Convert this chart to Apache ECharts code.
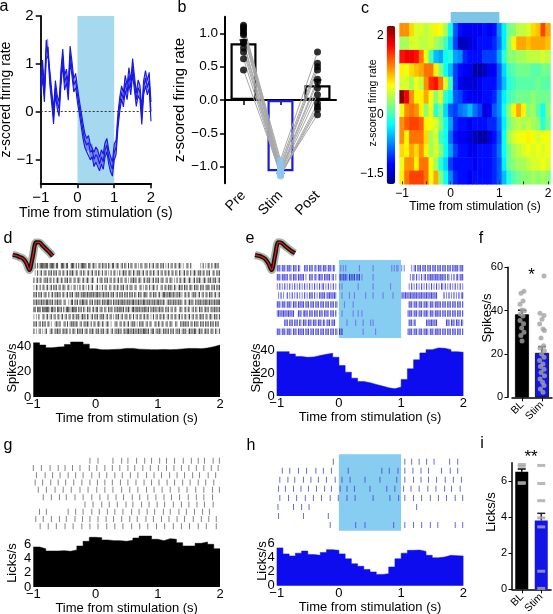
<!DOCTYPE html>
<html><head><meta charset="utf-8"><title>chart</title>
<script src="https://cdn.jsdelivr.net/npm/echarts@6.0.0/dist/echarts.min.js"></script>
<style>html,body{margin:0;padding:0;background:#fff;}#chart{width:553px;height:614px;}</style>
</head><body><div id="chart"></div>
<script>
// ================= DATA =================
const xTitle = 'Time from stimulation (s)';
const stimPeriod = [0, 1];
const timeTicks = [-1, 0, 1, 2];
// panel a: mean z-score trace (0.05 s steps from -1 to 2) and SEM
const meanA = [0.5,0.9,0.35,1.3,1.35,0.7,0.3,-0.1,0.5,0.2,
  0.05,0.7,1.15,0.6,0.75,0.4,1.2,0.9,0.55,0.65,
  0.35,0.1,-0.15,-0.4,-0.6,-0.7,-0.65,-0.85,-0.8,-1.0,
  -0.9,-0.95,-1.1,-0.95,-1.05,-0.8,-0.7,-0.95,-1.1,-1.2,
  -0.85,-0.75,-0.2,0.15,0.4,0.25,0.6,0.4,0.75,0.5,
  0.95,0.6,0.25,0.5,0.4,-0.1,0.5,0.7,0.5,0.65,0.0];
const semA = [0.16,0.18,0.15,0.2,0.18,0.15,0.14,0.16,0.15,0.14,
  0.15,0.17,0.16,0.15,0.14,0.16,0.17,0.15,0.14,0.15,
  0.16,0.14,0.15,0.16,0.15,0.14,0.15,0.16,0.14,0.15,
  0.16,0.15,0.14,0.15,0.16,0.15,0.14,0.15,0.16,0.15,
  0.17,0.15,0.16,0.15,0.14,0.15,0.16,0.15,0.17,0.15,
  0.16,0.15,0.14,0.16,0.15,0.17,0.15,0.16,0.15,0.17,0.2];
const yTicksA = [-1, 0, 1, 2];
// panel b
const catB = ['Pre', 'Stim', 'Post'];
const barsB = [0.85, -1.07, 0.22];
const errB = [0.9, -1.1, 0.3];
const preB = [1.12, 1.1, 1.07, 1.04, 1.0, 0.98, 0.87, 0.85, 0.78, 0.72, 0.62, 0.45];
const stimB = [-0.9, -0.95, -1.0, -1.02, -1.05, -1.07, -1.08, -1.1, -1.12, -1.13, -1.14, -1.1];
const postB = [0.72, 0.55, 0.5, 0.45, 0.31, 0.27, 0.18, 0.08, -0.05, -0.1, -0.14, -0.22];
const yTicksB = [-1, -0.5, 0, 0.5, 1];
// panel c: heatmap, 12 neurons x 31 time bins (-1..2 by 0.1)
const heatRows = [
  [1.2,1.2,0.9,0.6,0.6,0.5,0.6,0.8,0.7,0.4,-0.2,-0.9,-1.2,-1.3,-1.3,-1.3,-1.3,-1.2,-1.3,-1.2,-0.7,-0.3,0.2,0.3,0.5,0.5,0.6,0.9,1.0,1.5,1.1],
  [0.4,0.4,0.6,0.6,0.5,0.5,0.6,0.4,0.3,0.0,-0.4,-1.0,-1.5,-1.5,-1.4,-1.3,-1.2,-1.2,-1.2,-1.1,-0.8,-0.3,0.3,0.8,1.1,1.1,1.0,1.1,1.1,1.1,1.0],
  [1.7,1.8,1.8,1.7,1.3,0.7,0.0,-0.5,-0.6,-0.2,-0.1,-0.6,-0.7,-1.1,-1.2,-1.2,-1.2,-1.0,-1.0,-1.0,-0.6,-0.1,0.3,0.3,0.4,0.4,0.5,0.5,0.5,0.6,0.5],
  [0.8,0.7,0.9,1.0,1.1,1.3,1.3,0.8,0.3,-0.2,-0.5,-1.0,-1.2,-1.3,-1.3,-1.6,-1.6,-1.5,-1.3,-1.3,-0.9,-0.4,0.0,0.1,0.2,0.2,0.2,0.1,0.1,0.2,0.2],
  [0.6,0.6,0.4,0.7,0.5,1.2,1.6,1.7,1.3,0.6,0.0,-1.0,-1.3,-1.4,-1.4,-1.4,-1.3,-1.2,-1.2,-1.2,-0.9,-0.5,-0.1,0.0,0.1,0.1,0.1,0.1,0.2,0.1,0.1],
  [2.2,1.8,1.2,0.8,0.8,1.1,0.7,0.3,0.6,-0.1,-0.3,-0.9,-1.0,-1.2,-1.3,-1.3,-1.3,-1.2,-1.2,-1.1,-0.7,-0.3,0.0,0.1,0.2,0.2,0.2,0.3,0.2,0.2,0.2],
  [0.7,1.2,1.3,1.2,0.8,0.3,0.7,-0.1,0.2,-0.4,-0.9,-1.0,-0.8,-0.7,-0.5,-0.8,-1.0,-1.4,-1.3,-0.9,-0.7,-0.2,0.3,0.8,1.1,0.8,0.3,0.4,0.1,-0.2,0.3],
  [1.2,1.4,1.5,1.5,1.4,0.8,0.7,0.6,0.3,-0.2,-0.6,-1.1,-1.2,-1.2,-1.3,-1.2,-1.2,-1.2,-1.1,-1.1,-0.8,-0.3,0.2,0.4,0.5,0.4,0.5,0.4,0.3,-0.1,0.2],
  [1.2,0.8,1.3,1.3,1.3,0.9,0.4,0.6,0.0,-0.2,-0.8,-1.2,-1.3,-1.3,-1.4,-1.5,-1.6,-1.6,-1.4,-1.2,-0.9,-0.2,0.4,0.6,0.7,0.7,0.8,0.7,0.6,0.7,0.7],
  [0.9,0.8,1.1,0.9,1.2,0.8,0.4,0.6,0.3,-0.2,-0.6,-1.0,-1.2,-1.2,-1.3,-1.3,-1.2,-1.2,-1.2,-1.1,-0.8,-0.2,0.2,0.4,0.5,0.6,0.7,0.6,0.7,0.6,0.7],
  [0.7,1.2,1.2,0.8,1.3,1.3,0.7,0.4,-0.1,-0.4,-1.0,-1.2,-1.2,-1.2,-1.2,-1.3,-1.2,-1.2,-1.2,-1.1,-0.9,-0.3,0.2,0.3,0.4,0.4,0.5,0.6,0.6,0.7,0.6],
  [0.8,1.3,1.5,1.5,1.5,1.3,0.7,1.1,0.3,-0.2,-0.7,-1.1,-1.2,-1.2,-1.3,-1.2,-1.2,-1.2,-1.2,-1.1,-0.9,-0.5,-0.1,0.1,0.2,0.3,0.3,0.4,0.3,0.4,0.3]
];
const cbRange = [-1.75, 2.26];
const cbTicks = [-1.5, 0, 2];
const heatTicks = [-1, -0.5, 0, 0.5, 1, 1.5, 2];
// waveforms (normalised)
const waveD = [0, -0.04, -0.13, -0.22, -0.49, -1.0, -0.11, 0.84, 0.84, 0.62, 0.4, 0.18, -0.07];
const waveE = [0, -0.05, -0.12, -0.25, -0.55, -1.0, -0.05, 0.85, 0.8, 0.6, 0.42, 0.25, 0.12];
// spike rasters: one char per 20 ms bin from -1 s; 0 none, 1 light, 2 dark
const rasterD = [
  '2202022222 2202222022 0022202200 2220202022 2210220121 1012021120 2102201210 1202102021 0120102101 2102012012 1021201020 1201201210 1002102000 0000102010 2102012120',
  '0102012012 1021202120 1201201202 1210210120 2101201201 2021020120 1020120102 0121201210 2102120120 1201202101 2012012021 0210210210 1202102012 1021202102 1200210212',
  '2012021012 1202102012 1021021202 1012012101 2012101210 0201210212 0120120120 2101201021 2120121012 0212012021 2012101201 2101020120 1210121012 0212101210 2120212012',
  '1021020120 1201202120 1201210120 1012010201 2010201200 1201020120 0210120210 2120120121 0120012010 2102012102 0012012021 2102101212 0212012102 1210212012 2102120212',
  '2120212012 1020120212 1201201202 1201212021 2212122121 2212112121 2021201202 1202120212 0210212012 2101202120 1201221212 2121121211 0120210121 2012012012 0212012012',
  '2121212121 2212120212 1210120010 2202120212 2121021202 1212021212 2120212121 2212121212 2121212122 1212121212 2121210121 2121212121 0120121210 2121212122 1212121222',
  '2202220222 2220221202 2120202221 1222202120 2102120120 2201210210 2121021212 2120212102 2122121212 2120212121 1212102120 1201200121 0120210120 2102120121 2012121212',
  '1010200120 1201201201 2012012012 0120212012 1202101202 1201212012 0120102120 1201210210 2012012012 0210102012 0120210120 1201201202 0120120120 1201212012 0121021202',
  '2120120212 0120100121 1200120201 2121210120 1212102012 0121021012 1010012101 2012012012 1201021210 1201200120 2102101201 2100210021 2121201202 1210212021 2021202120',
  '2010120101 2001210212 1201212102 0121021212 0121021210 2120212012 1012012121 2012122121 2121212122 2120122012 1210212120 2120121201 2120121212 2012120121 2012102102'
];
const rasterE = [
  '2120212021 2102120210 0021202120 1202120212 0212021000 0101010000 0000001000 0000000100 0000000000 0010101100 1010000010 1202120212 0212021202 1202120212 0212120212',
  '2120212120 1202120212 1201002120 1201212021 2120120100 1212121021 2120212010 0000000100 0000000000 0000000000 0000000102 1020102012 0212121212 1212120210 1020120212',
  '1020102010 2010201020 1020102010 2010201201 0201020100 1010000000 0000010000 0000000100 0000000000 0100000000 0000001020 1020102010 2010201020 1021020102 0102010201',
  '0102010020 1020102010 1020102120 2010212120 2121212100 0010000010 0010000000 0100000100 0000010000 0001000000 1212121212 2121212121 2121212120 0000201020 1020102012',
  '2120212021 2102120212 1202120212 0212021202 1202120210 0000100000 0100000000 0000000000 0000000000 0000000000 0000002120 2120212021 2102120212 1202120212 0212021202',
  '1212121212 1212000212 0121202120 2120212021 2102120200 0010000000 0100010010 0000000000 0000000000 0000000000 0000012120 2120212021 2102120212 1202120212 0212021202',
  '0000002120 2120212021 0212021202 1202120210 2120212000 0000001000 0001000001 0000010100 0000000000 0000000000 0000002120 2100000000 2121212120 0000002120 2120212021',
  '2120212021 2102120212 1202120212 0212021202 1202120210 2120000000 0000000001 0000000001 0000000000 0000000000 0000012120 2120212021 2102120212 1202120212 0212021202'
];
// PSTH histograms, 100 ms bins from -1 s
const histD = [42.6,40.8,38.7,39.2,39.5,41.3,43.2,43.2,41.5,38.0,37.1,37.1,37.4,37.6,38.2,38.2,37.6,37.4,37.2,37.2,37.4,37.2,37.4,37.8,38.2,38.2,38.0,38.5,39.5,40.8];
const histE = [39.0,39.0,37.0,34.7,34.0,34.4,35.6,36.7,37.6,34.1,26.8,21.0,15.7,12.8,11.7,10.2,8.7,7.3,6.4,7.9,14.6,23.9,31.8,37.9,40.8,42.3,42.0,40.8,39.0,38.5];
const histG = [5.66,5.42,5.09,5.09,5.14,5.05,5.24,5.8,6.46,7.03,6.98,6.65,6.56,6.56,6.46,6.6,6.93,7.22,7.22,6.75,6.56,6.84,6.75,6.27,5.8,5.8,6.18,6.37,6.04,5.42];
const histH = [5.35,4.5,4.2,4.6,4.9,4.4,4.3,4.7,5.1,5.0,4.5,3.8,3.1,2.75,2.3,1.95,1.6,1.7,2.65,3.8,4.6,5.0,5.05,4.85,4.3,3.95,4.05,4.3,4.25,4.2];
const spikeTicks = [0, 20, 40];
const lickTicks = [0, 2, 4, 6];
// panel f
const catF = ['BL', 'Stim'];
const barsF = [38.3, 20.5];
const errF = [40.2, 23.4];
const dotsFBL = [49, 48, 44.5, 43, 40.3, 40, 38.5, 37.5, 35.5, 34, 32, 30, 28.5, 26];
const jitFBL = [0.1, -0.05, 0.05, -0.1, 0.0, 0.12, -0.08, 0.05, -0.1, 0.08, -0.02, 0.1, -0.06, 0.0];
const dotsFStim = [56, 38.8, 37.7, 36, 33.8, 31.5, 30.8, 27.4, 23.8, 22.8, 21.5, 20, 18.5, 17, 15.4, 14.2, 13, 11.5, 10, 8.5, 7, 5.4, 3.8, 2.3];
const jitFStim = [0.1, -0.1, 0.1, 0.0, -0.12, 0.05, 0.12, -0.05, 0.08, -0.1, 0.12, -0.02, 0.1, -0.12, 0.05, -0.08, 0.1, -0.05, 0.12, -0.1, 0.03, 0.1, -0.08, 0.05];
const fTicks = [0, 20, 40, 60];
// lick rasters (s)
const licksG = [
  [-0.09,0.04,0.28,0.42,0.52,0.66,0.79,0.90,1.03,1.14,1.27,1.41,1.54,1.65,1.75,1.89,1.99],
  [-1.0,-0.87,-0.73,-0.6,-0.49,-0.37,-0.25,-0.10,0.02,0.15,0.27,0.39,0.52,0.63,0.76,0.88,1.01,1.14,1.26,1.38,1.50,1.62,1.74,1.86,1.97],
  [-0.95,-0.81,-0.69,-0.57,-0.44,-0.32,-0.20,-0.06,0.06,0.18,0.31,0.43,0.56,0.68,0.82,0.94,1.06,1.19,1.31,1.43,1.56,1.67,1.81,1.93],
  [-0.97,-0.85,-0.72,-0.60,-0.48,-0.35,-0.22,-0.09,0.03,0.15,0.27,0.40,0.52,0.65,0.78,0.90,1.02,1.15,1.27,1.40,1.52,1.65,1.77,1.90],
  [-0.92,-0.79,-0.65,-0.52,-0.39,-0.25,-0.12,0.02,0.15,0.28,0.42,0.55,0.68,0.82,0.94,1.07,1.20,1.34,1.47,1.61,1.74,1.88,1.99],
  [-0.84,-0.71,-0.58,-0.47,-0.33,-0.20,-0.06,0.07,0.20,0.33,0.45,0.59,0.71,0.84,0.97,1.10,1.22,1.35,1.49,1.62,1.74,1.88],
  [-0.17,-0.04,0.10,0.22,0.35,0.49,0.60,0.74,0.86,0.99,1.11,1.25,1.38,1.50,1.63,1.75,1.89],
  [-0.90,-0.79,-0.44,-0.32,-0.20,-0.06,0.06,0.19,0.31,0.44,0.58,0.70,0.83,0.95,1.09,1.20,1.34,1.46,1.59,1.72,1.83],
  [-0.96,-0.84,-0.71,-0.58,-0.47,-0.33,-0.21,-0.09,0.04,0.17,0.29,0.42,0.55,0.67,0.81,0.93,1.06,1.18,1.31,1.43,1.57,1.70,1.82,1.94],
  [-0.89,-0.76,-0.63,-0.49,-0.36,-0.22,-0.09,0.04,0.18,0.31,0.44,0.58,0.71,0.84,0.98,1.11,1.25,1.38,1.51,1.65,1.78,1.94]
];
const licksH = [
  [-0.09,1.06,1.17,1.29,1.41,1.53,1.78,1.91],
  [-0.91,-0.79,-0.65,-0.52,-0.37,-0.25,-0.12,0.15,0.69,0.81,0.95,1.06,1.19,1.32,1.44,1.65,1.79,1.91],
  [-0.95,-0.82,-0.71,-0.57,-0.45,-0.33,-0.20,-0.06,0.05,0.18,0.42,0.66,0.93,1.06,1.20,1.32,1.44,1.57,1.71,1.84,1.97],
  [-0.97,-0.86,-0.73,-0.61,-0.49,-0.36,-0.23,-0.12,0.02,0.13,0.25,0.50,0.77,0.90,1.04,1.16,1.29,1.43,1.56,1.70,1.81,1.95],
  [-0.95,-0.81,-0.68,-0.54,-0.41,-0.28,-0.14,-0.01,0.13,0.26,0.55,0.82,0.96,1.06,1.20,1.33,1.47,1.60,1.73,1.87,1.99],
  [-0.98,-0.73,-0.60,-0.48,1.25],
  [-0.97,-0.57,-0.17],
  [-0.14,0.27,0.42,0.88,1.06,1.20,1.33,1.47,1.59,1.87,1.99]
];
// panel i
const catI = ['BL', 'Stim'];
const barsI = [6.5, 3.8];
const errI = [6.65, 4.2];
const dashIBL = [6.9, 6.8, 5.9, 5.85];
const dashIStim = [6.85, 5.85, 4.9, 3.95, 3.45, 1.0, 0.05];
const iTicks = [0, 2, 4, 6];

// ================= BUILD =================
const F = '"Liberation Sans", Arial, Helvetica, sans-serif';
const minus = v => (v < 0 ? '\u2212' + Math.abs(v) : String(v));
const lab = (size, extra) => Object.assign({color: '#000', fontSize: size, fontFamily: F}, extra || {});
const grids = [], xAxes = [], yAxes = [], series = [];
const addGrid = g => { grids.push(Object.assign({containLabel: false, outerBoundsMode: 'none'}, g)); return grids.length - 1; };
const addX = a => { xAxes.push(Object.assign({splitLine: {show: false}}, a)); return xAxes.length - 1; };
const addY = a => { yAxes.push(Object.assign({splitLine: {show: false}}, a)); return yAxes.length - 1; };
const hid = (gi, min, max, extra) => Object.assign({gridIndex: gi, type: 'value', min: min, max: max, show: false}, extra || {});
const axLine = w => ({show: true, onZero: false, lineStyle: {color: '#000', width: w}});
const BIN = 0.1;
const stepPts = vals => { const p = vals.map((v, i) => [-1 + i * BIN, v]); p.push([-1 + vals.length * BIN, vals[vals.length - 1]]); return p; };
const rasterPts = (rows, level) => { const pts = []; rows.forEach((s, r) => { const c = s.replace(/\s/g, ''); for (let i = 0; i < c.length; i++) if (c[i] === level) pts.push([-1 + (i + 0.5) * 0.02, r]); }); return pts; };
const lickPts = rows => { const pts = []; rows.forEach((row, r) => row.forEach(t => pts.push([t, r]))); return pts; };
function errSeries(xi, yi, means, ends, color) {
  return {type: 'custom', xAxisIndex: xi, yAxisIndex: yi, z: 5, silent: true,
    data: means.map((m, i) => [i, m, ends[i]]),
    renderItem: (p, api) => {
      const a = api.coord([api.value(0), api.value(1)]), b = api.coord([api.value(0), api.value(2)]);
      const c = Array.isArray(color) ? color[p.dataIndex] : color;
      return {type: 'group', children: [
        {type: 'line', shape: {x1: a[0], y1: a[1], x2: b[0], y2: b[1]}, style: {stroke: c, lineWidth: 1.5}},
        {type: 'line', shape: {x1: b[0] - 4, y1: b[1], x2: b[0] + 4, y2: b[1]}, style: {stroke: c, lineWidth: 1.5}}]};
    }};
}
function stimBox(xi, yi, color, z) {
  return {type: 'line', xAxisIndex: xi, yAxisIndex: yi, z: z, silent: true, symbol: 'none', lineStyle: {opacity: 0},
    data: [[stimPeriod[0], 0]],
    markArea: {silent: true, itemStyle: {color: color}, label: {show: false},
      data: [[{xAxis: stimPeriod[0]}, {xAxis: stimPeriod[1]}]]}};
}

// ---------- a ----------
const gA = addGrid({left: 40.7, top: 16, width: 110.3, height: 167.3});
const xA = addX({gridIndex: gA, type: 'value', min: -1, max: 2, interval: 1,
  axisLine: axLine(1.8), axisTick: {length: 5, lineStyle: {color: '#000', width: 1.5}},
  axisLabel: lab(15, {margin: 7, formatter: minus}),
  name: xTitle, nameLocation: 'middle', nameGap: 23, nameTextStyle: lab(14)});
const yA = addY({gridIndex: gA, type: 'value', min: -1.5, max: 2,
  axisLine: axLine(1.8), axisTick: {show: true, length: 5, lineStyle: {color: '#000', width: 1.5}, customValues: yTicksA},
  axisLabel: lab(15, {margin: 7, formatter: minus, customValues: yTicksA}),
  name: 'z-scored firing rate', nameLocation: 'middle', nameGap: 19, nameTextStyle: lab(14)});
const tA = meanA.map((_, i) => -1 + i * 0.05);
series.push(stimBox(xA, yA, '#a6d9ef', 1));
series.push({type: 'line', xAxisIndex: xA, yAxisIndex: yA, z: 2, symbol: 'none', silent: true, lineStyle: {opacity: 0},
  data: [[-1, 0]], markLine: {silent: true, symbol: 'none', label: {show: false},
    lineStyle: {color: '#333', type: [2, 2], width: 1}, data: [{yAxis: 0}]}});
series.push({type: 'custom', xAxisIndex: xA, yAxisIndex: yA, z: 3, silent: true,
  data: tA.map((t, i) => [t, meanA[i]]),
  renderItem: (p, api) => {
    if (p.dataIndex !== 0) return null;
    const up = tA.map((t, i) => api.coord([t, meanA[i] + semA[i]]));
    const lo = tA.map((t, i) => api.coord([t, meanA[i] - semA[i]])).reverse();
    return {type: 'polygon', shape: {points: up.concat(lo)}, style: {fill: 'rgba(80,80,238,0.6)'}};
  }});
[1, 0, -1].forEach(k => series.push({type: 'line', xAxisIndex: xA, yAxisIndex: yA, z: 4, symbol: 'none', silent: true,
  lineStyle: {color: '#1717e0', width: 1.1}, data: tA.map((t, i) => [t, meanA[i] + k * semA[i]])}));

// ---------- b ----------
const gB = addGrid({left: 225, top: 16.7, width: 111, height: 166.6});
const xB = addX({gridIndex: gB, type: 'category', data: catB,
  axisLine: {show: true, onZero: true, lineStyle: {color: '#000', width: 2}},
  axisTick: {show: true, alignWithLabel: true, length: 5, lineStyle: {color: '#000', width: 1.5}},
  axisLabel: {show: false}});
addX({gridIndex: gB, type: 'category', data: catB, position: 'bottom',
  axisLine: {show: false, onZero: false}, axisTick: {show: false},
  axisLabel: lab(14, {rotate: 45, margin: 10, interval: 0})});
const yB = addY({gridIndex: gB, type: 'value', min: -1.25, max: 1.25,
  axisLine: axLine(2), axisTick: {show: true, length: 5, lineStyle: {color: '#000', width: 1.5}, customValues: yTicksB},
  axisLabel: lab(13.5, {margin: 7, customValues: yTicksB, formatter: v => (v < 0 ? '\u2212' : '') + Math.abs(v).toFixed(1)}),
  name: 'z-scored firing rate', nameLocation: 'middle', nameGap: 31, nameTextStyle: lab(15)});
series.push({type: 'bar', xAxisIndex: xB, yAxisIndex: yB, barWidth: 26, z: 2, silent: true,
  data: barsB.map((v, i) => ({value: v, itemStyle: {color: 'rgba(255,255,255,0)', borderColor: i === 1 ? '#1a1ae0' : '#000', borderWidth: 2.2}}))});
series.push(errSeries(xB, yB, barsB, errB, ['#000', '#1a1ae0', '#000']));
preB.forEach((p, i) => series.push({type: 'line', xAxisIndex: xB, yAxisIndex: yB, z: 3, symbol: 'none', silent: true,
  lineStyle: {color: '#a8a8a8', width: 1}, data: [p, stimB[i], postB[i]]}));
series.push({type: 'scatter', xAxisIndex: xB, yAxisIndex: yB, z: 6, symbolSize: 7, itemStyle: {color: '#000'},
  data: preB.map(v => [0, v]).concat(postB.map(v => [2, v]))});
series.push({type: 'scatter', xAxisIndex: xB, yAxisIndex: yB, z: 6, symbolSize: 7, itemStyle: {color: '#8ec5ee'},
  data: stimB.map(v => [1, v])});

// ---------- c ----------
const gC = addGrid({left: 399.6, top: 23.3, width: 150.9, height: 161});
const heatCols = heatRows[0].map((_, i) => String(i));
const xCcat = addX({gridIndex: gC, type: 'category', data: heatCols, show: false, position: 'top'});
addX({gridIndex: gC, type: 'value', min: -1.05, max: 2.05, position: 'bottom', z: 10,
  axisLine: {show: false}, axisTick: {show: true, inside: true, length: 3, customValues: heatTicks, lineStyle: {color: '#333'}},
  axisLabel: lab(12, {margin: 3, customValues: timeTicks, formatter: minus}),
  name: xTitle, nameLocation: 'middle', nameGap: 13, nameTextStyle: lab(12)});
const yCcat = addY({gridIndex: gC, type: 'category', data: heatRows.map((_, i) => String(i)), show: false, inverse: true});
const heatData = [];
heatRows.forEach((row, r) => row.forEach((v, c) => heatData.push([c, r, v])));
series.push({type: 'heatmap', xAxisIndex: xCcat, yAxisIndex: yCcat, data: heatData, silent: true, itemStyle: {borderWidth: 0}});
const heatIdx = series.length - 1;
const gCB = addGrid({left: 386.7, top: 25.7, width: 8.5, height: 158.3});
addX(hid(gCB, 0, 1));
addY({gridIndex: gCB, type: 'value', min: cbRange[0], max: cbRange[1], axisLine: {show: false}, axisTick: {show: false},
  axisLabel: lab(12, {margin: 3, customValues: cbTicks, formatter: minus})});
const gCS = addGrid({left: 399.6, top: 12, width: 150.9, height: 11.3});
const xCS = addX(hid(gCS, -1.05, 2.05)); const yCS = addY(hid(gCS, 0, 1));
series.push(stimBox(xCS, yCS, '#7cc5e6', 2));

// ---------- d ----------
function waveGrid(left, wave) {
  const g = addGrid({left: left, top: 240, width: 40, height: 33});
  const xi = addX(hid(g, 0, 12)), yi = addY(hid(g, -1.2, 1.0));
  const d = wave.map((v, i) => [i, v]);
  [['#aab5a8', 8], ['#111', 4.2], ['#e01a1a', 1.3]].forEach(s => series.push({type: 'line', xAxisIndex: xi, yAxisIndex: yi,
    symbol: 'none', smooth: 0.3, silent: true, z: 3, lineStyle: {color: s[0], width: s[1]}, data: d}));
}
waveGrid(12.7, waveD);
const gDR = addGrid({left: 33.3, top: 262, width: 186.7, height: 73});
const xDR = addX(hid(gDR, -1, 2)), yDR = addY(hid(gDR, -0.5, 9.5, {inverse: true}));
[['1', '#8a8a8a'], ['2', '#151515']].forEach(s => series.push({type: 'scatter', xAxisIndex: xDR, yAxisIndex: yDR, silent: true,
  symbol: 'rect', symbolSize: [1, 5.5], itemStyle: {color: s[1]}, data: rasterPts(rasterD, s[0])}));
function histGrid(left, top, height, ymax, ticks, vals, color, nameGap) {
  const g = addGrid({left: left, top: top, width: 186.7, height: height});
  const xi = addX({gridIndex: g, type: 'value', min: -1, max: 2, interval: 1,
    axisLine: {show: false}, axisTick: {show: false}, axisLabel: lab(13, {margin: 1, formatter: minus}),
    name: xTitle, nameLocation: 'middle', nameGap: nameGap, nameTextStyle: lab(13)});
  const yi = addY({gridIndex: g, type: 'value', min: 0, max: ymax, axisLine: {show: false}, axisTick: {show: false},
    axisLabel: lab(13, {margin: 2, customValues: ticks})});
  series.push({type: 'line', xAxisIndex: xi, yAxisIndex: yi, step: 'end', symbol: 'none', silent: true,
    lineStyle: {color: color, width: 0.5}, areaStyle: {color: color, opacity: 1}, data: stepPts(vals)});
}
histGrid(33.3, 341, 56, 44, spikeTicks, histD, '#000', 13);

// ---------- e ----------
waveGrid(255, waveE);
const gER = addGrid({left: 276.7, top: 260, width: 186.6, height: 78});
const xER = addX(hid(gER, -1, 2)), yER = addY(hid(gER, -0.916, 7.695, {inverse: true}));
[['1', '#6a6ae6'], ['2', '#1a1ad2']].forEach(s => series.push({type: 'scatter', xAxisIndex: xER, yAxisIndex: yER, silent: true, z: 2,
  symbol: 'rect', symbolSize: [1.1, 6.5], itemStyle: {color: s[1]}, data: rasterPts(rasterE, s[0])}));
series.push(stimBox(xER, yER, 'rgba(122,198,240,0.9)', 10));
histGrid(276.7, 346, 50, 44, spikeTicks, histE, '#0c0cee', 14);

// ---------- f ----------
const gF = addGrid({left: 512, top: 267.3, width: 40, height: 130});
const xF = addX({gridIndex: gF, type: 'category', data: catF,
  axisLine: {show: true, onZero: false, lineStyle: {color: '#000', width: 1.5}},
  axisTick: {show: true, alignWithLabel: true, length: 4, lineStyle: {color: '#000'}},
  axisLabel: lab(10.5, {rotate: 45, margin: 6, interval: 0})});
const xFv = addX(hid(gF, -0.5, 1.5));
const yF = addY({gridIndex: gF, type: 'value', min: 0, max: 60, offset: 4,
  axisLine: axLine(1.5), axisTick: {show: true, length: 3.5, lineStyle: {color: '#000'}, customValues: fTicks},
  axisLabel: lab(11, {margin: 5, customValues: fTicks})});
series.push({type: 'bar', xAxisIndex: xF, yAxisIndex: yF, barWidth: 14, silent: true, z: 2,
  data: barsF.map((v, i) => ({value: v, itemStyle: {color: i ? '#1414e6' : '#000', borderColor: '#000', borderWidth: 0.8}}))});
series.push(errSeries(xF, yF, barsF, errF, ['#000', '#333']));
series.push({type: 'scatter', xAxisIndex: xFv, yAxisIndex: yF, z: 6, symbolSize: 5, silent: true, itemStyle: {color: '#a3a3a3'},
  data: dotsFBL.map((v, i) => [jitFBL[i], v]).concat(dotsFStim.map((v, i) => [1 + jitFStim[i], v]))});

// ---------- g ----------
const gGR = addGrid({left: 33.3, top: 457, width: 186.7, height: 73});
const xGR = addX(hid(gGR, -1, 2)), yGR = addY(hid(gGR, -0.5, 9.5, {inverse: true}));
series.push({type: 'scatter', xAxisIndex: xGR, yAxisIndex: yGR, silent: true, symbol: 'rect', symbolSize: [1, 6],
  itemStyle: {color: '#666'}, data: lickPts(licksG)});
histGrid(33.3, 535.4, 51.6, 7.3, lickTicks, histG, '#000', 15);

// ---------- h ----------
const gHR = addGrid({left: 276.7, top: 454.3, width: 186.6, height: 76.4});
const xHR = addX(hid(gHR, -1, 2)), yHR = addY(hid(gHR, -0.82, 7.63, {inverse: true}));
series.push({type: 'scatter', xAxisIndex: xHR, yAxisIndex: yHR, silent: true, z: 2, symbol: 'rect', symbolSize: [1, 6],
  itemStyle: {color: '#4646c8'}, data: lickPts(licksH)});
series.push(stimBox(xHR, yHR, 'rgba(122,198,240,0.9)', 10));
histGrid(276.7, 534.1, 51.6, 7.3, lickTicks, histH, '#0c0cee', 13.5);

// ---------- i ----------
const gI = addGrid({left: 512, top: 462.7, width: 39, height: 126.6});
const xI = addX({gridIndex: gI, type: 'category', data: catI,
  axisLine: {show: true, onZero: false, lineStyle: {color: '#000', width: 1.5}},
  axisTick: {show: true, alignWithLabel: true, length: 4, lineStyle: {color: '#000'}},
  axisLabel: lab(10.5, {rotate: 45, margin: 6, interval: 0})});
const xIv = addX(hid(gI, -0.5, 1.5));
const yI = addY({gridIndex: gI, type: 'value', min: 0, max: 7,
  axisLine: axLine(1.5), axisTick: {show: true, length: 3.5, lineStyle: {color: '#000'}, customValues: iTicks},
  axisLabel: lab(11, {margin: 5, customValues: iTicks})});
series.push({type: 'bar', xAxisIndex: xI, yAxisIndex: yI, barWidth: 13, silent: true, z: 2,
  data: barsI.map((v, i) => ({value: v, itemStyle: {color: i ? '#1414e6' : '#000'}}))});
series.push(errSeries(xI, yI, barsI, errI, ['#000', '#222']));
series.push({type: 'scatter', xAxisIndex: xIv, yAxisIndex: yI, z: 6, silent: true, symbol: 'rect', symbolSize: [8, 3],
  itemStyle: {color: '#a8a8a8'}, data: dashIBL.map(v => [0, v]).concat(dashIStim.map(v => [1, v]))});

// ---------- texts ----------
const T = (text, x, y, size, rot, extra) => Object.assign({type: 'text', x: x, y: y, rotation: rot || 0, silent: true, z: 100,
  style: {text: text, fill: '#000', font: size + 'px ' + F, align: 'center', verticalAlign: 'middle'}}, extra || {});
const R = Math.PI / 2;
const graphics = [
  T('a', 4, 7, 16), T('b', 182, 8, 16), T('c', 365, 9, 16),
  T('d', 8, 239, 16), T('e', 250, 239, 16), T('f', 481, 239, 16),
  T('g', 8, 446, 16), T('h', 251, 446, 16), T('i', 482, 444, 16),
  T('z-scored firing rate', 373, 103, 10.5, R),
  T('Spikes/s', 12.5, 368, 13, R), T('Spikes/s', 256.5, 368, 13, R), T('Spikes/s', 487.5, 318, 13, R),
  T('Licks/s', 12.5, 563, 13, R), T('Licks/s', 262, 561, 13, R), T('Licks/s', 491, 512, 13, R),
  T('*', 531.5, 275, 17), T('**', 531, 457, 17)
];

const chart = echarts.init(document.getElementById('chart'), null, {renderer: 'canvas'});
chart.setOption({
  animation: false, backgroundColor: '#fff',
  textStyle: {fontFamily: F},
  grid: grids, xAxis: xAxes, yAxis: yAxes,
  visualMap: [{type: 'continuous', min: cbRange[0], max: cbRange[1], seriesIndex: heatIdx, calculable: false,
    orient: 'vertical', left: 386.7, top: 25.7, itemWidth: 8.5, itemHeight: 158.3, padding: 0, text: null, showLabel: false,
    inRange: {color: ['#00007f', '#0000ff', '#007fff', '#00ffff', '#7fff7f', '#ffff00', '#ff7f00', '#ff0000', '#7f0000']}}],
  series: series,
  graphic: graphics
});
</script></body></html>
